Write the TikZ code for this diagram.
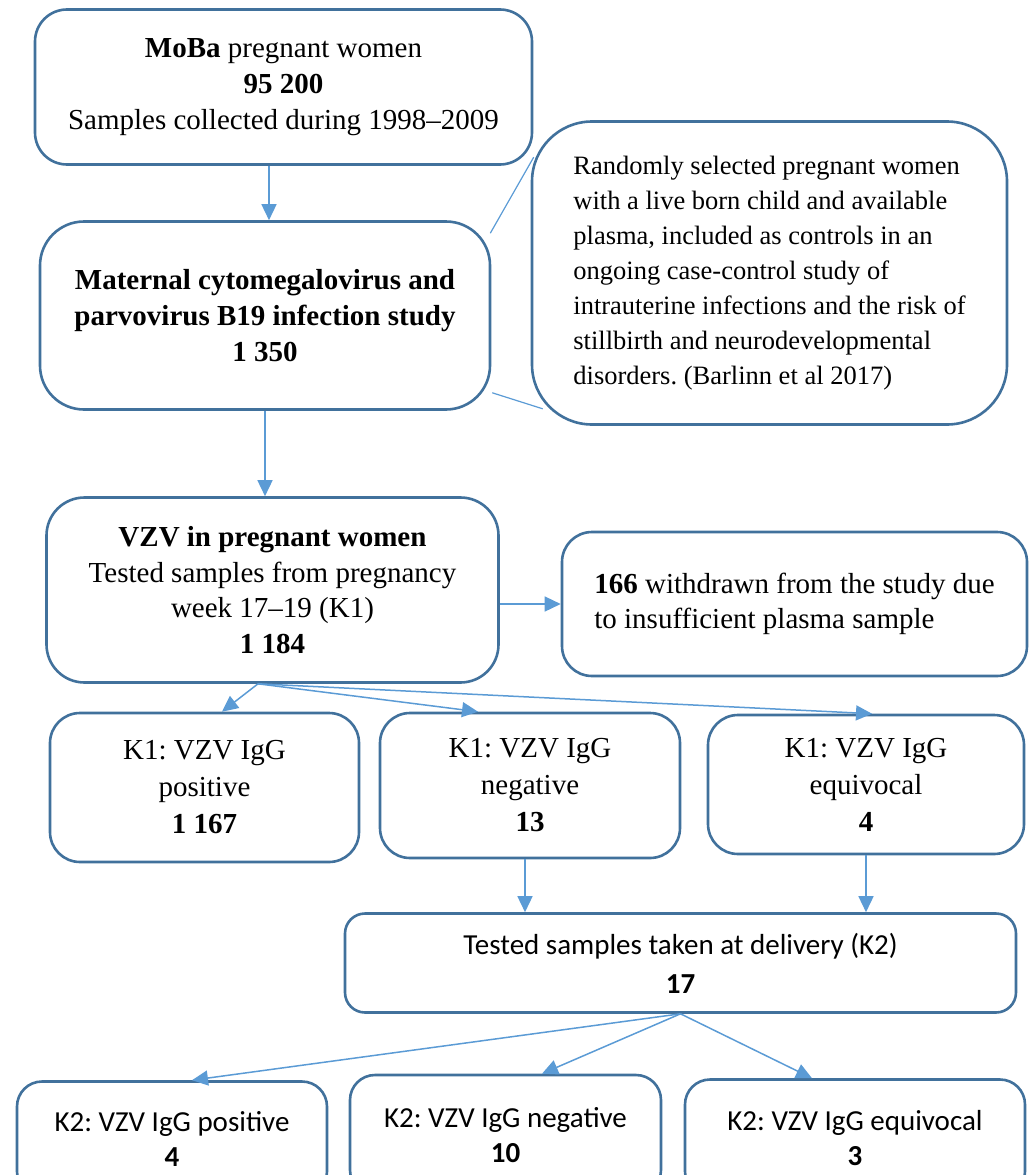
\documentclass[tikz,border=0pt]{standalone}
\usepackage{fontspec}
\setmainfont{Liberation Serif}
\newfontfamily\calib{Carlito}
\usetikzlibrary{arrows.meta}
\definecolor{boxc}{HTML}{41719C}
\definecolor{arrc}{HTML}{5B9BD5}
\frenchspacing
\begin{document}
\begin{tikzpicture}[x=1pt,y=-1pt,
  box/.style={draw=boxc, line width=2.6pt, fill=white, align=center, inner sep=0pt},
  flow/.style={draw=arrc, line width=1.5pt, -{Triangle[length=16pt,width=15pt]}},
  link/.style={draw=arrc, line width=1.2pt},
  serifA/.style={font=\frenchspacing\fontsize{29}{36}\selectfont},
  serifB/.style={font=\frenchspacing\fontsize{29}{35.5}\selectfont},
  serifK/.style={font=\frenchspacing\fontsize{29}{37}\selectfont},
  callfont/.style={font=\frenchspacing\fontsize{26.5}{35}\selectfont},
  sansT/.style={font=\frenchspacing\calib\fontsize{29}{39}\selectfont},
  sansB/.style={font=\frenchspacing\calib\fontsize{29}{35}\selectfont}]
\clip (0,0) rectangle (1032,1175);
\useasboundingbox (0,0) rectangle (1032,1175);

% top boxes
\node[box, serifA, rounded corners=32pt, minimum width=497pt, minimum height=155pt] (moba) at (283.5,87)
  {\textbf{MoBa} pregnant women\\ \textbf{95 200}\\ Samples collected during 1998–2009};
\node[box, serifA, rounded corners=44pt, minimum width=450pt, minimum height=188pt] (mat) at (265,315.5)
  {\textbf{Maternal cytomegalovirus and}\\ \textbf{parvovirus B19 infection study}\\ \textbf{1 350}};
\node[box, callfont, align=left, rounded corners=60pt, minimum width=475pt, minimum height=303pt] (call) at (769.5,273)
  {Randomly selected pregnant women\\ with a live born child and available\\ plasma, included as controls in an\\ ongoing case-control study of\\ intrauterine infections and the risk of\\ stillbirth and neurodevelopmental\\ disorders. (Barlinn et al 2017)};

\node[box, serifB, rounded corners=38pt, minimum width=452pt, minimum height=185pt] (vzv) at (272.5,590)
  {\textbf{VZV in pregnant women}\\ Tested samples from pregnancy\\ week 17–19 (K1)\\ \textbf{1 184}};
\node[box, serifB, align=left, rounded corners=30pt, minimum width=465pt, minimum height=144pt] (wd) at (794.5,604)
  {\textbf{166} withdrawn from the study due\\ to insufficient plasma sample};

% K1 row
\node[box, serifK, rounded corners=30pt, minimum width=309pt, minimum height=149pt] (k1p) at (204.5,787.5)
  {K1: VZV IgG\\ positive\\ \textbf{1 167}};
\node[box, serifK, rounded corners=30pt, minimum width=300pt, minimum height=145pt] (k1n) at (530,785.5)
  {K1: VZV IgG\\ negative\\ \textbf{13}};
\node[box, serifK, rounded corners=30pt, minimum width=316pt, minimum height=139pt] (k1e) at (866,784.5)
  {K1: VZV IgG\\ equivocal\\ \textbf{4}};

% K2
\node[box, sansT, rounded corners=20pt, minimum width=671pt, minimum height=99pt] (k2t) at (680.5,963)
  {Tested samples taken at delivery (K2)\\ \textbf{17}};
\node[box, sansB, rounded corners=25pt, minimum width=310pt, minimum height=115pt] (k2p) at (172,1139)
  {K2: VZV IgG positive\\ \textbf{4}};
\node[box, sansB, rounded corners=25pt, minimum width=311pt, minimum height=120pt] (k2n) at (505.5,1135)
  {K2: VZV IgG negative\\ \textbf{10}};
\node[box, sansB, rounded corners=25pt, minimum width=340pt, minimum height=117pt] (k2e) at (855,1138)
  {K2: VZV IgG equivocal\\ \textbf{3}};

% callout links
\draw[link] ([shift={(-1,13)}]mat.north east) -- ([shift={(3,37)}]call.north west);
\draw[link] ([shift={(1,-18)}]mat.south east) -- ([shift={(12,-17)}]call.south west);

% flow arrows
\draw[flow] ([xshift=-14.5pt]moba.south) coordinate (a1) -- (a1 |- mat.north);
\draw[flow] (mat.south) -- (mat.south |- vzv.north);
\draw[flow] (vzv.east |- wd.west) -- (wd.west);
\draw[flow] ([xshift=-14.5pt]vzv.south) -- ([xshift=17.5pt]k1p.north);
\draw[flow] ([xshift=-14.5pt]vzv.south) -- ([xshift=-52pt]k1n.north);
\draw[flow] ([xshift=-14.5pt]vzv.south) -- ([xshift=6pt]k1e.north);
\draw[flow] ([xshift=-5pt]k1n.south) coordinate (a2) -- (a2 |- k2t.north);
\draw[flow] (k1e.south) -- (k1e.south |- k2t.north);
\draw[flow] (k2t.south) -- ([xshift=20pt]k2p.north);
\draw[flow] (k2t.south) -- ([xshift=36.5pt]k2n.north);
\draw[flow] (k2t.south) -- ([xshift=-43pt]k2e.north);
\end{tikzpicture}
\end{document}
